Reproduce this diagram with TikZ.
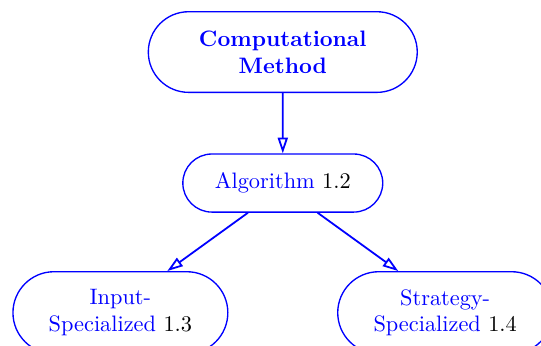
\documentclass[tikz,border=0pt]{standalone}
\usepackage{tikz}
\usepackage{xcolor}
\usetikzlibrary{shapes.misc, arrows.meta, calc, positioning}
\definecolor{methodblue}{rgb}{0, 0, 1}

\tikzset{
    methodbox/.style={draw=methodblue, text=methodblue, rounded rectangle, align=center, semithick, inner sep=0pt},
    methodarrow/.style={-{Triangle[open, length=7pt, width=4.5pt]}, draw=methodblue, thick}
}

\begin{document}
\begin{tikzpicture}
        \useasboundingbox (0,0) rectangle (242.2pt,-154.9pt);

        \node [methodbox, minimum width=120.4pt, minimum height=36.1pt, font=\bfseries] (CM) at (126.6pt,-23.3pt) {Computational\\Method};
        \node [methodbox, minimum width=89.5pt, minimum height=26pt, below=27pt of CM] (Alg) {Algorithm \textcolor{black}{1.2}};
        \node [methodbox, minimum width=96.2pt, minimum height=36.7pt, below=26.1pt of Alg, xshift=-72.7pt] (InSpec) {Input-\\Specialized \textcolor{black}{1.3}};
        \node [methodbox, minimum width=96.2pt, minimum height=36.7pt, below=26.1pt of Alg, xshift=72.7pt] (StSpec) {Strategy-\\Specialized \textcolor{black}{1.4}};

        \draw [methodarrow] (CM) -- (Alg);
        \draw [methodarrow] ($(Alg.south)+(-15.6pt,0)$) -- ($(InSpec.north)+(21pt,0)$);
        \draw [methodarrow] ($(Alg.south)+(15.6pt,0)$) -- ($(StSpec.north)+(-21pt,0)$);
\end{tikzpicture}
\end{document}
